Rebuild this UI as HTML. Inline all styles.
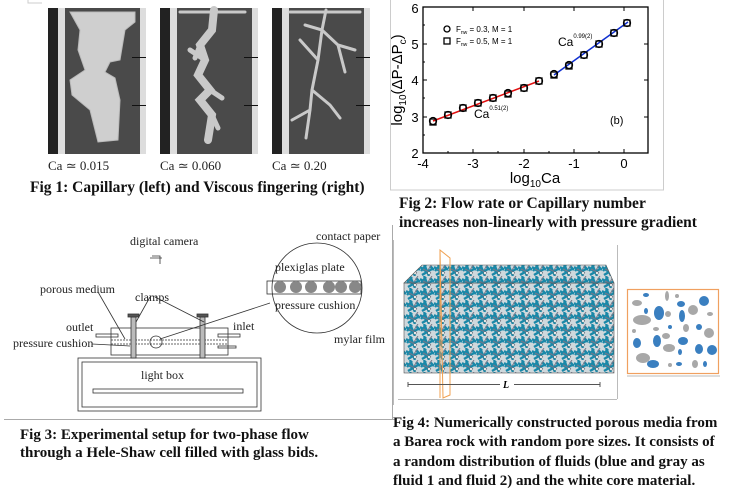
<!DOCTYPE html>
<html><head><meta charset="utf-8"><style>
body{margin:0;width:747px;height:498px;background:#fff;position:relative;overflow:hidden;font-family:"Liberation Serif",serif}
.t{position:absolute;font-weight:bold;color:#111;white-space:nowrap}
.s{position:absolute;font-size:12px;color:#222;white-space:nowrap}
</style></head><body>
<svg width="747" height="498" style="position:absolute;left:0;top:0">
<defs>
<pattern id="net" width="14" height="12" patternUnits="userSpaceOnUse">
<rect width="14" height="12" fill="#cfd8dc"/>
<path d="M0 3L7 8M4 0L9 12M10 2L14 6M2 11L12 5M6 1L1 7" stroke="#1a88a8" stroke-width="2.4"/>
<path d="M3 5L11 9M12 0L8 6" stroke="#778" stroke-width="1"/>
<circle cx="9" cy="9" r="1.3" fill="#fff" stroke="#555" stroke-width=".4"/>
</pattern>
<g id="ph"><rect width="98" height="146" fill="#4a4a4a"/><rect x="0" width="10" height="146" fill="#222"/><rect x="10" width="7" height="146" fill="#ddd"/><rect x="92" width="6" height="146" fill="#ddd"/><rect x="84" y="49" width="14" height="1" fill="#111"/><rect x="84" y="97" width="14" height="1" fill="#111"/></g>
</defs>
<path d="M28 0V3H42" fill="none" stroke="#ccc"/>
<use href="#ph" x="48" y="8"/><use href="#ph" x="160" y="8"/><use href="#ph" x="272" y="8"/>
<g fill="#cfcfcf" stroke="#bbb" stroke-width="1">
<path d="M70 12H135V22L125 30L120 60L110 62L105 72L115 78L120 100L118 140L98 142L90 110L72 95L70 80L85 70L78 50L80 30Z"/>
</g>
<g fill="none" stroke="#c9c9c9" stroke-linecap="round">
<path d="M214 10L212 30L200 45L205 60L198 75L210 90L200 100L212 115L208 140" stroke-width="8"/>
<path d="M205 60L190 50M210 90L222 98M212 115L218 128M200 45L195 58" stroke-width="5"/>
<path d="M326 10L322 30L318 60L312 90L310 110L306 138M322 30L338 45L345 72M318 60L300 40M312 90L330 105L340 118M310 110L292 120M322 30L305 25M338 45L355 50" stroke-width="3"/>
<path d="M180 12H245M290 12H360" stroke-width="3"/>
</g>
<rect x="390.5" y="-1" width="273" height="191" fill="none" stroke="#ccc"/>
<rect x="423" y="7" width="225" height="146" fill="none" stroke="#000" stroke-width="1.3"/>
<g stroke="#000" stroke-width="1">
<path d="M423 153v-4M473 153v-4M524 153v-4M574 153v-4M624 153v-4M448 153v-2M498 153v-2M549 153v-2M599 153v-2M473 7v4M524 7v4M574 7v4M624 7v4"/>
<path d="M423 117h4M423 80h4M423 44h4M423 135h2M423 98h2M423 62h2M423 25h2M648 117h-4M648 80h-4M648 44h-4"/>
</g>
<g font-family="Liberation Sans" font-size="13" text-anchor="middle">
<text x="423" y="168">-4</text><text x="473" y="168">-3</text><text x="524" y="168">-2</text><text x="574" y="168">-1</text><text x="624" y="168">0</text>
<text x="415" y="158">2</text><text x="415" y="122">3</text><text x="415" y="85">4</text><text x="415" y="49">5</text><text x="415" y="13">6</text>
<text x="535" y="183" font-size="15">log<tspan font-size="10" dy="4">10</tspan><tspan dy="-4">Ca</tspan></text>
<text transform="translate(402,80) rotate(-90)" font-size="15">log<tspan font-size="10" dy="4">10</tspan><tspan dy="-4">(ΔP-ΔP</tspan><tspan font-size="10" dy="4">c</tspan><tspan dy="-4">)</tspan></text>
</g>
<path d="M433 121L539 81" stroke="#e01010" stroke-width="1.5"/>
<path d="M554 75L628 22" stroke="#1030d0" stroke-width="1.5"/>
<g fill="none" stroke="#000" stroke-width="1.3">
<circle cx="433" cy="121" r="3.5"/><circle cx="448" cy="115" r="3.5"/><circle cx="463" cy="108" r="3.5"/><circle cx="478" cy="103" r="3.5"/><circle cx="493" cy="98" r="3.5"/><circle cx="508" cy="93" r="3.5"/><circle cx="524" cy="88" r="3.5"/><circle cx="539" cy="81" r="3.5"/><circle cx="554" cy="74" r="3.5"/><circle cx="569" cy="65" r="3.5"/><circle cx="584" cy="55" r="3.5"/><circle cx="599" cy="44" r="3.5"/><circle cx="614" cy="33" r="3.5"/><circle cx="627" cy="23" r="3.5"/>
<rect x="430" y="119" width="6" height="6"/><rect x="445" y="112" width="6" height="6"/><rect x="460" y="105" width="6" height="6"/><rect x="475" y="100" width="6" height="6"/><rect x="490" y="95" width="6" height="6"/><rect x="505" y="91" width="6" height="6"/><rect x="521" y="85" width="6" height="6"/><rect x="536" y="78" width="6" height="6"/><rect x="551" y="72" width="6" height="6"/><rect x="566" y="63" width="6" height="6"/><rect x="581" y="52" width="6" height="6"/><rect x="596" y="41" width="6" height="6"/><rect x="611" y="30" width="6" height="6"/><rect x="624" y="20" width="6" height="6"/>
<circle cx="447" cy="29" r="3"/><rect x="444" y="38" width="6" height="6"/>
</g>
<g font-family="Liberation Sans" font-size="8">
<text x="456" y="32">F<tspan font-size="5" dy="2">nw</tspan><tspan dy="-2"> = 0.3, M = 1</tspan></text>
<text x="456" y="44">F<tspan font-size="5" dy="2">nw</tspan><tspan dy="-2"> = 0.5, M = 1</tspan></text>
<text x="474" y="118" font-size="12">Ca<tspan font-size="6" dy="-8">0.51(2)</tspan></text>
<text x="558" y="46" font-size="12">Ca<tspan font-size="6" dy="-8">0.99(2)</tspan></text>
<text x="610" y="124" font-size="11">(b)</text>
</g>
<path d="M4 419.5H395M392.5 225V419" stroke="#aaa"/>
<g fill="none" stroke="#333" stroke-width=".8">
<rect x="78" y="358" width="183" height="53"/><rect x="82" y="362" width="175" height="45"/>
<rect x="93" y="389" width="150" height="4"/>
<rect x="111" y="328" width="117" height="27"/>
<path d="M111 340H228M111 344H228" stroke-dasharray="2 1"/>
<rect x="131" y="317" width="5" height="41" fill="#bbb"/><rect x="200" y="317" width="5" height="41" fill="#bbb"/>
<rect x="128" y="314" width="11" height="3" fill="#555"/><rect x="197" y="314" width="11" height="3" fill="#555"/>
<rect x="96" y="334" width="22" height="3"/><rect x="218" y="334" width="22" height="3"/><rect x="218" y="346" width="18" height="2"/>
<circle cx="156" cy="342" r="6"/>
<path d="M160 339L270 303M136 322L150 297M204 322L155 297M125 339L98 292M92 344L130 346"/>
<circle cx="317" cy="288" r="45"/>
<rect x="267" y="281" width="94" height="13"/>
<path d="M150 258h12M152 256h8v8"/>
</g>
<g fill="#888"><circle cx="280" cy="287" r="6"/><circle cx="296" cy="287" r="6"/><circle cx="311" cy="287" r="6"/><circle cx="329" cy="287" r="6"/><circle cx="341" cy="287" r="6"/><circle cx="355" cy="287" r="6"/></g>
<path d="M393.5 240V405M398 399.5H617M617.5 245V399" stroke="#bbb"/>
<rect x="404" y="283" width="210" height="90" fill="url(#net)" stroke="#555" stroke-width=".6"/>
<path d="M404 283L422 265H606L614 283Z" fill="url(#net)" stroke="#555" stroke-width=".6"/>
<path d="M440 250L450 258V395L443 398ZM440 250V398" fill="none" stroke="#f0a050"/>
<path d="M408 382V387M408 384.5H500M514 384.5H600M600 382V387" stroke="#555"/>
<text x="503" y="388" font-size="10" font-style="italic" font-weight="bold">L</text>
<rect x="627.5" y="289.5" width="91" height="84" fill="#fff" stroke="#f0a060" stroke-width="1.2"/>
<path d="M627 376H720" stroke="#bbb"/>
<g fill="#3a7fc0"><ellipse cx="646" cy="295" rx="3" ry="2"/><ellipse cx="659" cy="313" rx="5" ry="7"/><ellipse cx="681" cy="304" rx="4" ry="3"/><ellipse cx="704" cy="301" rx="5" ry="5"/><ellipse cx="682" cy="316" rx="3" ry="6"/><ellipse cx="646" cy="311" rx="2" ry="3"/><ellipse cx="657" cy="341" rx="4" ry="6"/><ellipse cx="683" cy="341" rx="5" ry="4"/><ellipse cx="699" cy="349" rx="4" ry="5"/><ellipse cx="712" cy="350" rx="5" ry="5"/><ellipse cx="637" cy="343" rx="4" ry="5"/><ellipse cx="653" cy="364" rx="6" ry="4"/><ellipse cx="679" cy="364" rx="3" ry="2"/><ellipse cx="705" cy="364" rx="2" ry="3"/><ellipse cx="699" cy="327" rx="3" ry="3"/><ellipse cx="670" cy="327" rx="2" ry="2"/><ellipse cx="680" cy="352" rx="2" ry="3"/></g>
<g fill="#a8a8a8"><ellipse cx="637" cy="303" rx="5" ry="3"/><ellipse cx="667" cy="296" rx="2" ry="5"/><ellipse cx="693" cy="310" rx="5" ry="5"/><ellipse cx="642" cy="320" rx="9" ry="5"/><ellipse cx="668" cy="314" rx="3" ry="3"/><ellipse cx="710" cy="314" rx="3" ry="2"/><ellipse cx="634" cy="331" rx="2" ry="2"/><ellipse cx="656" cy="329" rx="3" ry="2"/><ellipse cx="666" cy="336" rx="4" ry="3"/><ellipse cx="686" cy="328" rx="3" ry="4"/><ellipse cx="709" cy="333" rx="5" ry="5"/><ellipse cx="669" cy="348" rx="6" ry="4"/><ellipse cx="643" cy="358" rx="7" ry="5"/><ellipse cx="670" cy="365" rx="2" ry="2"/><ellipse cx="695" cy="364" rx="3" ry="4"/><ellipse cx="677" cy="296" rx="2" ry="2"/></g>
</svg>
<div class="s" style="left:48px;top:158px;font-size:13px">Ca ≃ 0.015</div>
<div class="s" style="left:160px;top:158px;font-size:13px">Ca ≃ 0.060</div>
<div class="s" style="left:272px;top:158px;font-size:13px">Ca ≃ 0.20</div>
<div class="t" style="left:30px;top:179px;font-size:15.5px">Fig 1: Capillary (left) and Viscous fingering (right)</div>
<div class="t" style="left:399px;top:194px;font-size:15.5px;line-height:19px">Fig 2: Flow rate or Capillary number<br>increases non-linearly with pressure gradient</div>
<div class="s" style="left:130px;top:234px">digital camera</div>
<div class="s" style="left:40px;top:282px">porous medium</div>
<div class="s" style="left:135px;top:290px">clamps</div>
<div class="s" style="left:66px;top:320px">outlet</div>
<div class="s" style="left:233px;top:319px">inlet</div>
<div class="s" style="left:13px;top:336px">pressure cushion</div>
<div class="s" style="left:141px;top:368px">light box</div>
<div class="s" style="left:316px;top:229px">contact paper</div>
<div class="s" style="left:275px;top:260px">plexiglas plate</div>
<div class="s" style="left:275px;top:298px">pressure cushion</div>
<div class="s" style="left:334px;top:332px">mylar film</div>
<div class="t" style="left:20px;top:426px;font-size:15px;line-height:18px">Fig 3: Experimental setup for two-phase flow<br>through a Hele-Shaw cell filled with glass bids.</div>
<div class="t" style="left:393px;top:414px;font-size:15px;line-height:19.3px">Fig 4: Numerically constructed porous media from<br>a Barea rock with random pore sizes. It consists of<br>a random distribution of fluids (blue and gray as<br>fluid 1 and fluid 2) and the white core material.</div>
</body></html>
